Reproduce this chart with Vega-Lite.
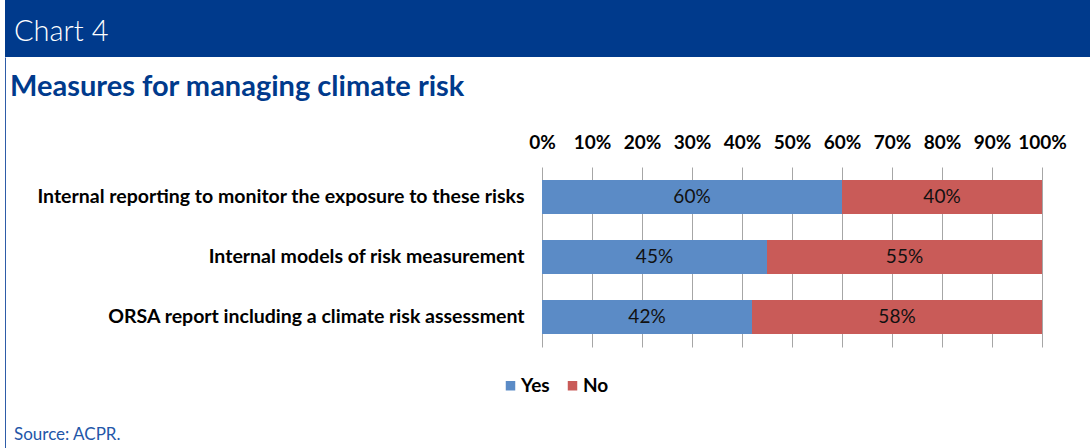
{
  "$schema": "https://vega.github.io/schema/vega-lite/v6.json",
  "background": "white",
  "padding": {"left": 4, "top": 0, "right": 0, "bottom": 0},
  "autosize": {"type": "pad"},
  "spacing": 0,
  "bounds": "flush",
  "datasets": {
    "survey": [
      {"measure": "Internal reporting to monitor the exposure to these risks", "answer": "Yes", "pct": 0.60},
      {"measure": "Internal reporting to monitor the exposure to these risks", "answer": "No", "pct": 0.40},
      {"measure": "Internal models of risk measurement", "answer": "Yes", "pct": 0.45},
      {"measure": "Internal models of risk measurement", "answer": "No", "pct": 0.55},
      {"measure": "ORSA report including a climate risk assessment", "answer": "Yes", "pct": 0.42},
      {"measure": "ORSA report including a climate risk assessment", "answer": "No", "pct": 0.58}
    ],
    "header": [{"panel": "Chart 4"}]
  },
  "title": {
    "text": "Source: ACPR.",
    "orient": "bottom",
    "anchor": "start",
    "frame": "group",
    "offset": -9,
    "baseline": "alphabetic",
    "dx": 9,
    "font": "Lato",
    "fontSize": 17,
    "letterSpacing": 0.5,
    "fontWeight": "normal",
    "color": "#2356A8"
  },
  "vconcat": [
    {
      "width": 1086,
      "height": 57,
      "view": {"fill": "#003A8C", "stroke": null},
      "title": {
        "text": "Chart 4",
        "orient": "top",
        "anchor": "start",
        "frame": "group",
        "offset": -70,
        "baseline": "alphabetic",
        "dx": 9,
        "font": "Lato",
        "fontSize": 29,
        "fontWeight": 300,
        "color": "#ffffff"
      },
      "data": {"name": "header"},
      "mark": {"type": "rect", "color": "#003A8C"},
      "encoding": {}
    },
    {
      "width": 1086,
      "height": 391,
      "view": {"fill": null, "stroke": "#2E5CA8", "strokeWidth": 1, "strokeDash": [0, 2563, 391, 0]},
      "title": {
        "text": "Measures for managing climate risk",
        "orient": "top",
        "anchor": "start",
        "frame": "group",
        "offset": -68,
        "baseline": "alphabetic",
        "dx": 5,
        "font": "Lato",
        "fontSize": 29,
        "letterSpacing": 0.7,
        "fontWeight": "bold",
        "color": "#003A8C"
      },
      "data": {"name": "survey"},
      "encoding": {
        "y": {
          "field": "measure",
          "type": "nominal",
          "sort": null,
          "scale": {"range": [110, 290], "paddingInner": 0.4333, "paddingOuter": 0.2167},
          "axis": {
            "orient": "left",
            "offset": -537,
            "title": null,
            "domain": false,
            "ticks": false,
            "grid": false,
            "labelPadding": 18,
            "labelLimit": 0,
            "labelFont": "Lato",
            "labelFontWeight": "bold",
            "labelFontSize": 19.5,
            "labelColor": "#000000"
          }
        }
      },
      "layer": [
        {
          "mark": {"type": "bar"},
          "encoding": {
            "x": {
              "field": "pct",
              "type": "quantitative",
              "stack": "zero",
              "scale": {"domain": [0, 1], "range": [537, 1037]},
              "axis": {
                "orient": "top",
                "offset": -110,
                "title": null,
                "format": ".0%",
                "values": [0, 0.1, 0.2, 0.3, 0.4, 0.5, 0.6, 0.7, 0.8, 0.9, 1],
                "labelFlush": false,
                "domain": false,
                "ticks": false,
                "labelPadding": 15,
                "labelFont": "Lato",
                "labelFontWeight": "bold",
                "labelFontSize": 19,
                "labelColor": "#000000",
                "grid": true,
                "gridColor": "#A6A6A6",
                "gridWidth": 1
              }
            },
            "color": {
              "field": "answer",
              "type": "nominal",
              "scale": {"domain": ["Yes", "No"], "range": ["#5B8BC6", "#C95B58"]},
              "legend": {
                "title": null,
                "orient": "none",
                "legendX": 496,
                "legendY": 376,
                "direction": "horizontal",
                "symbolType": "square",
                "symbolSize": 90,
                "symbolStrokeWidth": 0,
                "labelFont": "Lato",
                "labelFontWeight": "bold",
                "labelFontSize": 19,
                "labelColor": "#000000",
                "labelOffset": 1,
                "columnPadding": 13,
                "padding": 0
              }
            },
            "order": {"field": "answer", "sort": "descending"}
          }
        },
        {
          "mark": {"type": "text", "font": "Lato", "fontSize": 19, "color": "#111111"},
          "encoding": {
            "x": {"field": "pct", "type": "quantitative", "stack": "zero", "bandPosition": 0.5},
            "text": {"field": "pct", "type": "quantitative", "format": ".0%"},
            "detail": {"field": "answer"},
            "order": {"field": "answer", "sort": "descending"}
          }
        }
      ]
    }
  ]
}
